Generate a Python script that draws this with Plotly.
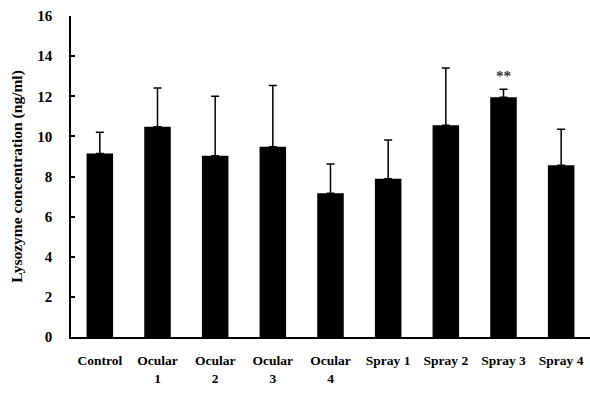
import plotly.graph_objects as go

# Lysozyme concentration per treatment group (mean and upper SD)
groups = ["Control", "Ocular<br>1", "Ocular<br>2", "Ocular<br>3", "Ocular<br>4",
          "Spray 1", "Spray 2", "Spray 3", "Spray 4"]
means = [9.15, 10.48, 9.03, 9.48, 7.16, 7.89, 10.55, 11.95, 8.56]
sd = [1.05, 1.93, 2.97, 3.06, 1.46, 1.93, 2.86, 0.40, 1.79]
y_ticks = [0, 2, 4, 6, 8, 10, 12, 14, 16]

font_family = "Liberation Serif, Times New Roman, serif"

fig = go.Figure(
    go.Bar(
        x=groups,
        y=means,
        width=0.46,
        marker=dict(color="black", line=dict(width=0)),
        error_y=dict(type="data", array=sd, arrayminus=[0] * len(sd),
                     symmetric=False, color="black", thickness=1.5, width=4),
    )
)

# significance marker above Spray 3
fig.add_annotation(x=groups[7], y=means[7] + sd[7], text="**", showarrow=False,
                   yanchor="bottom", yshift=3,
                   font=dict(family=font_family, size=15, color="#333", weight="bold"))

fig.update_layout(
    width=590, height=393,
    margin=dict(l=71, r=0, t=16, b=56),
    paper_bgcolor="white", plot_bgcolor="white",
    showlegend=False,
    font=dict(family=font_family, color="black"),
    bargap=0.54,
)
fig.update_xaxes(
    range=[-0.5, 8.5],
    showline=True, linecolor="black", linewidth=2,
    ticks="", tickfont=dict(family=font_family, size=13.5, color="black", weight="bold"),
    ticklabelstandoff=10,
    showgrid=False, zeroline=False,
)
fig.update_yaxes(
    range=[0, 16], tickvals=y_ticks,
    showline=True, linecolor="black", linewidth=1.5,
    ticks="inside", ticklen=4, tickwidth=1.5, tickcolor="black",
    tickfont=dict(family=font_family, size=15, color="black", weight="bold"),
    ticklabelstandoff=14,
    showgrid=False, zeroline=False,
    title=dict(text="Lysozyme concentration (ng/ml)", standoff=11,
               font=dict(family=font_family, size=15.5, color="black", weight="bold")),
)

fig.write_html("out.html")
